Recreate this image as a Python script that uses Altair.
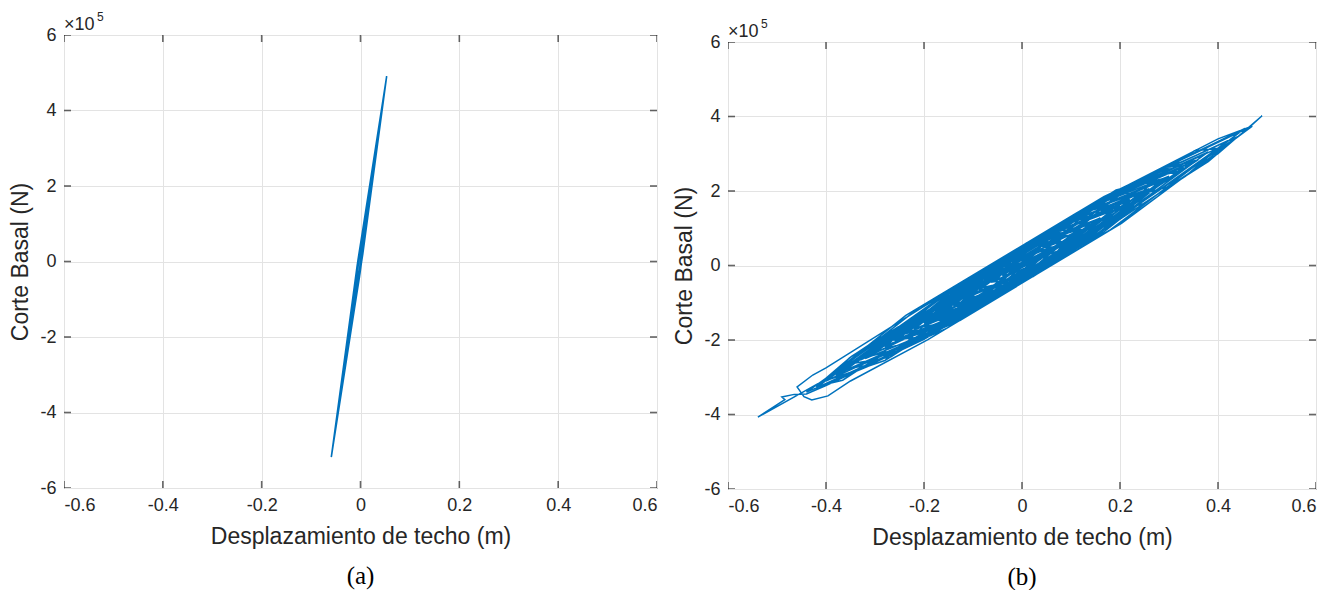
import altair as alt
import pandas as pd

x_ticks = [-0.6, -0.4, -0.2, 0, 0.2, 0.4, 0.6]
y_ticks = [-6, -4, -2, 0, 2, 4, 6]

# Panel (a): roof displacement (m) and base shear (x1e5 N)
desp_a = [0.0, 0.0059, 0.0073, -0.0068, -0.0149, 0.0053, 0.0196, -0.0079, -0.0293,
          0.0053, 0.0329, -0.0078, -0.0416, 0.0055, 0.0451, -0.0072, -0.0516, 0.0047,
          0.053, -0.007, -0.0591, -0.0009, 0.0496, -0.0067, -0.0549, -0.002, 0.0429,
          -0.005, -0.0449, -0.0003, 0.0373, -0.0023, -0.0349, -0.0008, 0.0273, -0.0023,
          -0.026, -0.0024, 0.0151, -0.0013, -0.0127, -0.0023, 0.004]
corte_a = [0.0, 0.4, 0.8, -0.2, -1.2, 0.35, 1.9, -0.3, -2.5,
           0.3, 3.1, -0.25, -3.6, 0.3, 4.2, -0.15, -4.5, 0.2,
           4.91, -0.13, -5.18, -0.3, 4.6, -0.1, -4.8, -0.4, 4.0,
           0.05, -3.9, -0.2, 3.5, 0.25, -3.0, -0.2, 2.6, 0.2,
           -2.2, -0.35, 1.5, 0.25, -1.0, -0.25, 0.5]

# Panel (b)
desp_b = [0.00,
          0.018, 0.042, 0.06, 0.027, -0.017, -0.05, -0.005, 0.055, 0.10,
          0.034, -0.054, -0.12, -0.03, 0.09, 0.18, 0.081, -0.051, -0.15,
          -0.039, 0.109, 0.22, 0.079, -0.109, -0.25, -0.085, 0.135, 0.30,
          0.114, -0.134, -0.32, -0.14, 0.10, 0.28, 0.07, -0.21, -0.42,
          -0.153, 0.203, 0.47, 0.167, -0.237, -0.40, -0.45, -0.539,
          -0.484, -0.49, -0.465, -0.44, -0.40, -0.20, 0.15, 0.40, 0.49,
          0.465, 0.40, 0.20, -0.20, -0.40, -0.427, -0.459, -0.445, -0.429, -0.396, -0.35,
          -0.192, 0.178, 0.455, 0.198, -0.144, -0.40, -0.166, 0.146, 0.38,
          0.158, -0.138, -0.36, -0.126, 0.186, 0.42, 0.204, -0.084, -0.30,
          -0.111, 0.141, 0.33, 0.153, -0.083, -0.26, -0.077, 0.167, 0.35,
          0.131, -0.161, -0.38, -0.191, 0.061, 0.25, 0.109, -0.079, -0.22,
          -0.067, 0.137, 0.29, 0.143, -0.053, -0.20, -0.086, 0.066, 0.18,
          0.042, -0.142, -0.28, -0.124, 0.084, 0.24, 0.126, -0.026, -0.14,
          -0.053, 0.063, 0.15, 0.051, -0.081, -0.18, -0.09, 0.03, 0.12,
          0.054, -0.034, -0.10, -0.046, 0.026, 0.08, 0.038, -0.018, -0.06,
          -0.027, 0.017, 0.05, 0.029, 0.00, -0.02,
          0.028, 0.092, 0.14, 0.032, -0.112, -0.22, -0.136, -0.024, 0.06,
          -0.048, -0.192, -0.30, -0.204, -0.076, 0.02, -0.04, -0.12, -0.18,
          -0.066, 0.086, 0.20, 0.116, 0.004, -0.08, 0.022, 0.158, 0.26,
          0.17, 0.05, -0.04, 0.038, 0.142, 0.22, 0.118, -0.018, -0.12,
          0.012, 0.188, 0.32, 0.236, 0.124, 0.04, 0.136, 0.264, 0.36,
          0.282, 0.178, 0.10, 0.16, 0.24, 0.30, 0.192, 0.048, -0.06,
          0.006, 0.094, 0.16, 0.034, -0.134, -0.26, -0.188, -0.092, -0.02,
          -0.116, -0.244, -0.34, -0.268, -0.172, -0.10, -0.154, -0.226, -0.28,
          -0.172, -0.028, 0.08, 0.008, -0.088, -0.16, -0.076, 0.036, 0.12,
          0.012, -0.132, -0.24, -0.114, 0.054, 0.18, 0.096, -0.016, -0.10,
          0.002, 0.138, 0.24, 0.168, 0.072, 0.0, 0.06, 0.14, 0.20,
          0.098, -0.038, -0.14, -0.068, 0.028, 0.10, 0.01, -0.11, -0.20,
          -0.134, -0.046, 0.02, -0.10, -0.26, -0.38, -0.146, 0.166, 0.40,
          0.181, -0.111, -0.33, -0.099, 0.209, 0.44, 0.176, -0.176, -0.44,
          -0.308, -0.132, 0.0,
          -0.048, -0.112, -0.16, -0.076, 0.036, 0.12, 0.066, 0.006, -0.06,
          0.024, 0.136, 0.22, 0.094, -0.074, -0.20, -0.128, -0.032, 0.04,
          -0.068, -0.212, -0.32, -0.248, -0.152, -0.08, -0.134, -0.206, -0.26,
          -0.104, 0.104, 0.26, 0.182, 0.078, 0.0, 0.048, 0.112, 0.16,
          0.04, -0.12, -0.24, -0.15, -0.03, 0.06, 0.006, -0.066, -0.12,
          0.006, 0.174, 0.30, 0.204, 0.076, -0.02, 0.016, 0.064, 0.10,
          0.016, -0.096, -0.18, -0.084, 0.044, 0.14, 0.014, -0.154, -0.28,
          -0.196, -0.084, 0.0,
          0.102, 0.238, 0.34, 0.292, 0.228, 0.18, 0.246, 0.334, 0.40,
          0.352, 0.288, 0.24, 0.30, 0.38, 0.44, 0.20, -0.12, -0.36,
          -0.306, -0.234, -0.18, -0.252, -0.348, -0.42, -0.366, -0.294, -0.24,
          -0.288, -0.352, -0.40, -0.28, -0.12, 0.0]
corte_b = [0.03,
           -0.08, 0.13, 0.50, 0.54, 0.20, -0.37, -0.36, 0.11, 0.82,
           0.70, 0.00, -0.92, -0.61, 0.34, 1.45, 1.12, 0.08, -1.16,
           -0.73, 0.44, 1.77, 1.10, -0.38, -1.95, -1.09, 0.65, 2.40,
           1.43, -0.53, -2.50, -1.53, 0.37, 2.24, 1.08, -1.13, -3.29,
           -1.68, 1.13, 3.74, 1.85, -1.34, -3.05, -3.42, -4.07,
           -3.60, -3.53, -3.46, -3.45, -3.22, -1.98, 0.80, 3.00, 4.02,
           3.72, 3.40, 2.05, -1.10, -2.75, -2.94, -3.26, -3.52, -3.61, -3.50, -3.10,
           -1.99, 0.94, 3.68, 2.04, -0.66, -3.10, -1.68, 0.78, 3.05,
           1.73, -0.61, -2.81, -1.47, 1.00, 3.35, 2.04, -0.23, -2.34,
           -1.20, 0.79, 2.64, 1.64, -0.23, -2.02, -1.03, 0.90, 2.80,
           1.51, -0.79, -2.97, -1.88, 0.11, 2.01, 1.24, -0.24, -1.71,
           -0.85, 0.76, 2.32, 1.51, -0.04, -1.55, -0.95, 0.25, 1.45,
           0.76, -0.69, -2.18, -1.30, 0.34, 1.93, 1.33, 0.12, -1.08,
           -0.69, 0.23, 1.22, 0.73, -0.31, -1.39, -0.93, 0.02, 0.98,
           0.71, 0.01, -0.76, -0.53, 0.04, 0.66, 0.53, 0.09, -0.44,
           -0.39, 0.01, 0.43, 0.41, 0.03, -0.13,
           0.10, 0.63, 1.12, 0.58, -0.60, -1.69, -1.48, -0.52, 0.50,
           -0.09, -1.27, -2.31, -1.96, -0.88, 0.19, -0.18, -0.83, -1.37,
           -0.84, 0.42, 1.59, 1.14, 0.22, -0.59, -0.30, 0.86, 2.06,
           1.51, 0.54, -0.28, 0.03, 0.90, 1.75, 1.40, 0.25, -0.91,
           -0.13, 1.30, 2.53, 2.27, 1.32, 0.34, 0.99, 2.01, 2.84,
           2.58, 1.70, 0.81, 1.08, 1.74, 2.37, 2.03, 0.80, -0.44,
           -0.07, 0.64, 1.28, 0.60, -0.78, -2.00, -1.89, -1.05, -0.13,
           -0.63, -1.67, -2.62, -2.46, -1.63, -0.75, -1.07, -1.65, -2.15,
           -1.66, -0.47, 0.65, 0.29, -0.50, -1.22, -1.06, -0.09, 0.97,
           0.27, -0.88, -1.84, -1.16, 0.21, 1.43, 1.23, 0.26, -0.75,
           -0.20, 0.91, 1.90, 1.74, 0.91, 0.03, 0.40, 1.04, 1.59,
           1.14, 0.01, -1.06, -0.70, 0.09, 0.81, 0.61, -0.43, -1.53,
           -1.17, -0.45, 0.19, -0.45, -1.76, -2.93, -1.56, 0.96, 3.15,
           1.84, -0.52, -2.54, -1.09, 1.38, 3.46, 1.90, -0.94, -3.40,
           -2.67, -1.24, 0.03,
           -0.29, -0.80, -1.22, -0.76, 0.15, 0.97, 0.93, 0.38, -0.44,
           0.10, 0.99, 1.75, 1.04, -0.32, -1.53, -1.39, -0.56, 0.34,
           -0.42, -1.56, -2.47, -2.22, -1.41, -0.59, -0.84, -1.43, -2.00,
           -1.23, 0.48, 2.06, 1.70, 0.84, 0.03, 0.35, 0.86, 1.28,
           0.54, -0.75, -1.84, -1.52, -0.51, 0.50, 0.20, -0.39, -0.91,
           -0.20, 1.16, 2.37, 2.04, 0.96, -0.13, 0.08, 0.47, 0.81,
           0.48, -0.46, -1.37, -0.81, 0.23, 1.12, 0.59, -0.81, -2.15,
           -1.75, -0.83, 0.03,
           0.53, 1.65, 2.68, 2.66, 2.09, 1.43, 1.65, 2.40, 3.15,
           3.08, 2.52, 1.90, 2.12, 2.79, 3.46, 2.04, -0.55, -2.78,
           -2.66, -2.04, -1.37, -1.64, -2.44, -3.25, -3.08, -2.46, -1.84,
           -1.92, -2.48, -3.09, -2.55, -1.23, 0.03]

BLUE = "#0072BD"
AX = "#262626"
FONT = "Liberation Sans"

x_lab = "datum.value == 0 ? '0' : (datum.value < 0 ? '-' : '') + format(abs(datum.value), '.1f')"
y_lab = "(datum.value < 0 ? '-' : '') + format(abs(datum.value), 'd')"


def exponent(pos):
    one = pd.DataFrame({"s": ["x"]})
    a = alt.Chart(one).mark_text(text="\u00d710", font=FONT, fontSize=18, color=AX,
                                 align="left", baseline="alphabetic").encode(
        x=alt.value(0), y=alt.value(pos[0]))
    b = alt.Chart(one).mark_text(text="5", font=FONT, fontSize=12, color=AX,
                                 align="left", baseline="alphabetic").encode(
        x=alt.value(33), y=alt.value(pos[1]))
    return [a, b]


def panel(xs, ys, W, H, tag, sw, with_exp):
    df = pd.DataFrame({"x": xs, "y": ys, "i": list(range(len(xs)))})
    xsc = alt.Scale(domain=[-0.6, 0.6], nice=False, zero=False)
    ysc = alt.Scale(domain=[-6, 6], nice=False, zero=False)
    line = alt.Chart(df).mark_line(color=BLUE, strokeWidth=sw, clip=True).encode(
        x=alt.X("x:Q", scale=xsc,
                axis=alt.Axis(values=x_ticks, title="Desplazamiento de techo (m)", labelExpr=x_lab)),
        y=alt.Y("y:Q", scale=ysc,
                axis=alt.Axis(values=y_ticks, title="Corte Basal (N)", labelExpr=y_lab)),
        order="i:Q",
    )
    tx = pd.DataFrame({"t": x_ticks})
    ty = pd.DataFrame({"t": y_ticks})
    tk = dict(size=14, thickness=1.6, color=AX, clip=True)
    tb = alt.Chart(tx).mark_tick(orient="vertical", **tk).encode(x=alt.X("t:Q", scale=xsc), y=alt.datum(-6))
    tt = alt.Chart(tx).mark_tick(orient="vertical", **tk).encode(x=alt.X("t:Q", scale=xsc), y=alt.datum(6))
    tl = alt.Chart(ty).mark_tick(orient="horizontal", **tk).encode(y=alt.Y("t:Q", scale=ysc), x=alt.datum(-0.6))
    tr = alt.Chart(ty).mark_tick(orient="horizontal", **tk).encode(y=alt.Y("t:Q", scale=ysc), x=alt.datum(0.6))
    one = pd.DataFrame({"s": [tag]})
    lab = alt.Chart(one).mark_text(font="Liberation Serif", fontSize=25, color="#000000",
                                   align="center", baseline="middle").encode(
        text="s:N", x=alt.value(W / 2), y=alt.value(H + 88))
    layers = [line, tb, tt, tl, tr, lab]
    if with_exp:
        layers += exponent((-5, -14))
    return alt.layer(*layers).properties(width=W, height=H)


left = panel(desp_a, corte_a, 593, 453, "(a)", 1.6, True)
right = panel(desp_b, corte_b, 588, 447, "(b)", 1.5, False)
SP = 7
spacer = alt.layer(*exponent((SP - 5, SP - 14))).properties(
    width=588, height=SP, view=alt.ViewBackground(stroke="transparent"))

chart = alt.hconcat(
    left, alt.vconcat(spacer, right, spacing=0, bounds="flush"), spacing=15
).properties(
    padding={"left": 9, "top": 10, "right": 2, "bottom": 0}
).configure_view(stroke=AX, strokeWidth=1).configure_axis(
    domain=False, ticks=False, grid=True, gridColor="#e3e3e3", gridWidth=1,
    labelFont=FONT, labelFontSize=18, labelColor=AX, labelPadding=8,
    titleFont=FONT, titleFontSize=23, titleFontWeight="normal", titleColor=AX,
    titlePadding=7,
).configure_axisX(labelPadding=8, titlePadding=11)

chart.save("out.html", embed_options={"renderer": "svg", "actions": False})
